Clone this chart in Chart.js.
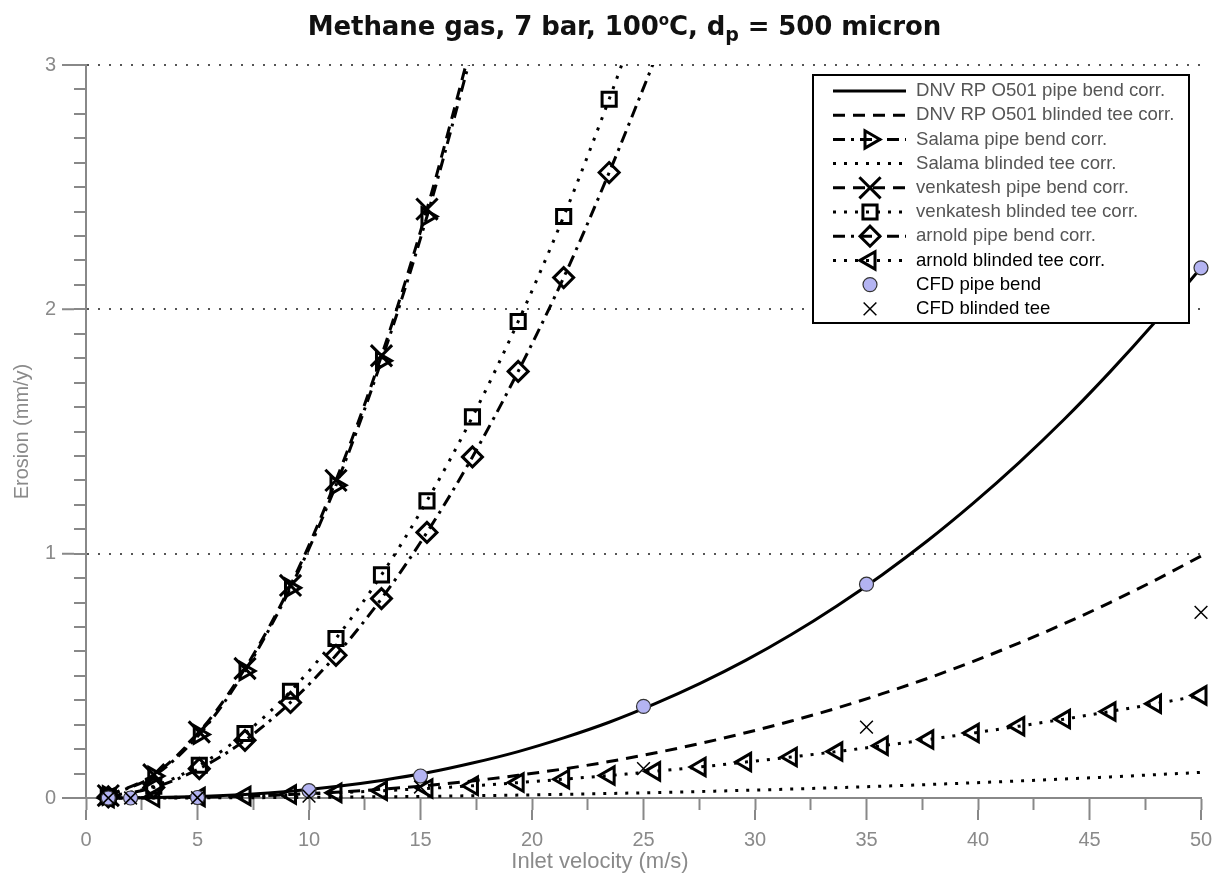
<!DOCTYPE html>
<html>
<head>
<meta charset="utf-8">
<script src="https://cdn.jsdelivr.net/npm/chart.js@4/dist/chart.umd.min.js"></script>
<style>
  body { margin: 0; background: #fff; }
  #wrap { position: relative; width: 1219px; height: 882px; }
  #title { position: absolute; left: 15px; top: 5px; width: 1219px; text-align: center;
           font: bold 26px "DejaVu Sans"; color: #111; line-height: 30px; letter-spacing: -0.1px; }
  #title sup { font-size: 15px; }
  #title sub { font-size: 19px; }
</style>
</head>
<body>
<div id="wrap">
  <div id="title">Methane gas, 7 bar, 100<sup>o</sup>C, d<sub>p</sub> = 500 micron</div>
  <canvas id="c" width="1219" height="882"></canvas>
</div>
<script>
// inlet velocities used by the correlations (m/s)
const velocity = [1, 3.04, 5.08, 7.13, 9.17, 11.21, 13.25, 15.29, 17.33, 19.38, 21.42, 23.46, 25.5,
                  27.54, 29.58, 31.63, 33.67, 35.71, 37.75, 39.79, 41.83, 43.88, 45.92, 47.96, 50];
// velocities of the CFD runs
const cfdVelocity = [1, 2, 5, 10, 15, 25, 35, 50];

// erosion (mm/y)
const dnvPipeBend = [0.0001, 0.0016, 0.006, 0.0145, 0.028, 0.047, 0.072, 0.103, 0.143, 0.19, 0.246, 0.31, 0.385,
                     0.469, 0.563, 0.669, 0.786, 0.914, 1.054, 1.207, 1.372, 1.551, 1.744, 1.95, 2.17];
const dnvBlindedTee = [0, 0.0009, 0.0033, 0.0076, 0.0143, 0.0236, 0.0358, 0.051, 0.07, 0.093, 0.119, 0.149, 0.184,
                       0.223, 0.267, 0.315, 0.368, 0.427, 0.49, 0.559, 0.634, 0.714, 0.8, 0.892, 0.99];
const salamaPipeBend = [0.01, 0.09, 0.26, 0.52, 0.86, 1.28, 1.79, 2.38, 3.06];
const salamaBlindedTee = [0, 0.0002, 0.0005, 0.0012, 0.0021, 0.0034, 0.005, 0.0069, 0.0092, 0.0119, 0.015, 0.0184, 0.0223,
                          0.0266, 0.0314, 0.0366, 0.0423, 0.0484, 0.055, 0.0621, 0.0697, 0.0778, 0.0863, 0.0954, 0.105];
const venkateshPipeBend = [0.01, 0.095, 0.27, 0.53, 0.87, 1.3, 1.81, 2.41, 3.1];
const venkateshBlindedTee = [0.005, 0.048, 0.134, 0.264, 0.437, 0.653, 0.913, 1.216, 1.56, 1.95, 2.38, 2.86, 3.38];
const arnoldPipeBend = [0.005, 0.043, 0.12, 0.236, 0.391, 0.584, 0.816, 1.087, 1.396, 1.746, 2.13, 2.56, 3.02];
const arnoldBlindedTee = [0.0002, 0.0016, 0.0043, 0.0085, 0.014, 0.021, 0.0295, 0.039, 0.05, 0.063, 0.077, 0.092, 0.109,
                          0.127, 0.147, 0.168, 0.19, 0.214, 0.239, 0.266, 0.294, 0.323, 0.354, 0.386, 0.42];
const cfdPipeBend = [0, 0, 0.002, 0.03, 0.09, 0.375, 0.875, 2.17];
const cfdBlindedTee = [0, 0, 0.001, 0.008, 0.045, 0.12, 0.29, 0.76];

const Y_MAX = 3;

function pts(xs, ys) {
    return ys.map((y, i) => ({ x: xs[i], y: y }));
}

// markers above the axis top are not shown (lines are clipped there)
function hideAbove(r) {
    return ctx => (ctx.raw && ctx.raw.y > Y_MAX ? 0 : r);
}

const DASH = [12, 8];
const DASHDOT = [12, 6, 3, 6];
const DOT = [3, 8];

function corr(label, ys, dash, style, radius, rotation) {
    return {
        label: label,
        data: pts(velocity, ys),
        borderColor: '#000',
        borderWidth: 3,
        borderDash: dash,
        backgroundColor: 'rgba(0,0,0,0)',
        pointStyle: style || 'circle',
        pointRadius: style ? hideAbove(radius) : 0,
        pointBorderWidth: 3,
        pointBorderColor: '#000',
        pointBackgroundColor: 'rgba(0,0,0,0)',
        pointRotation: rotation || 0,
        legendRadius: radius || 0,
        showLine: true,
        tension: 0,
        cubicInterpolationMode: 'monotone'
    };
}

const datasets = [
    corr('DNV RP O501 pipe bend corr.', dnvPipeBend, [], null),
    corr('DNV RP O501 blinded tee corr.', dnvBlindedTee, DASH, null),
    corr('Salama pipe bend corr.', salamaPipeBend, DASHDOT, 'triangle', 10, 90),
    corr('Salama blinded tee corr.', salamaBlindedTee, DOT, null),
    corr('venkatesh pipe bend corr.', venkateshPipeBend, DASH, 'crossRot', 15),
    corr('venkatesh blinded tee corr.', venkateshBlindedTee, DOT, 'rect', 10),
    corr('arnold pipe bend corr.', arnoldPipeBend, DASHDOT, 'rectRot', 10),
    corr('arnold blinded tee corr.', arnoldBlindedTee, DOT, 'triangle', 10, 270),
    {
        label: 'CFD pipe bend',
        data: pts(cfdVelocity, cfdPipeBend),
        showLine: false,
        pointStyle: 'circle',
        pointRadius: 7,
        pointBorderWidth: 1.2,
        pointBorderColor: '#333',
        pointBackgroundColor: '#b4b4f2',
        legendRadius: 7
    },
    {
        label: 'CFD blinded tee',
        data: pts(cfdVelocity, cfdBlindedTee),
        showLine: false,
        pointStyle: 'crossRot',
        pointRadius: 9,
        pointBorderWidth: 1.5,
        pointBorderColor: '#000',
        pointBackgroundColor: 'rgba(0,0,0,0)',
        legendRadius: 9
    }
];
// later series drawn on top, clip lines at the top of the axes
datasets.forEach((d, i) => {
    d.order = datasets.length - i;
    d.clip = { left: 20, top: 0, right: 20, bottom: 25 };
});

function isInt(v) { return Math.abs(v - Math.round(v)) < 1e-6; }

// longer major ticks
const majorTicks = {
    id: 'majorTicks',
    afterDraw(chart) {
        const ctx = chart.ctx;
        const xs = chart.scales.x, ys = chart.scales.y;
        ctx.save();
        ctx.strokeStyle = '#888';
        ctx.lineWidth = 2;
        ctx.beginPath();
        for (let v = 0; v <= Y_MAX; v++) {
            const p = ys.getPixelForValue(v);
            ctx.moveTo(ys.right - 24, p);
            ctx.lineTo(ys.right - 12, p);
        }
        for (let v = 0; v <= 50; v += 5) {
            const p = xs.getPixelForValue(v);
            ctx.moveTo(p, xs.top + 12);
            ctx.lineTo(p, xs.top + 22);
        }
        ctx.stroke();
        // x axis title
        ctx.fillStyle = '#8a8a8a';
        ctx.font = '22px "Liberation Sans"';
        ctx.textAlign = 'center';
        ctx.textBaseline = 'middle';
        ctx.fillText('Inlet velocity (m/s)', 600, 862);
        ctx.restore();
    }
};

// boxed legend with line + marker samples
const boxLegend = {
    id: 'boxLegend',
    afterDraw(chart) {
        const ctx = chart.ctx;
        const area = chart.chartArea;
        const w = 376, h = 248;
        const left = area.right - 12 - w, top = area.top + 10;
        ctx.save();
        ctx.fillStyle = '#fff';
        ctx.fillRect(left, top, w, h);
        ctx.strokeStyle = '#000';
        ctx.lineWidth = 2;
        ctx.strokeRect(left, top, w, h);
        ctx.font = '18.6px "Liberation Sans"';
        ctx.textBaseline = 'middle';
        ctx.textAlign = 'left';
        chart.data.datasets.forEach((d, i) => {
            const y = top + 16 + i * 24.2;
            const x1 = left + 20, x2 = left + 93, xm = left + 57;
            if (d.showLine) {
                ctx.strokeStyle = '#000';
                ctx.lineWidth = d.borderWidth;
                ctx.setLineDash(d.borderDash);
                ctx.beginPath();
                ctx.moveTo(x1, y);
                ctx.lineTo(x2, y);
                ctx.stroke();
            }
            ctx.setLineDash([]);
            if (d.legendRadius) {
                ctx.strokeStyle = d.pointBorderColor;
                ctx.fillStyle = d.pointBackgroundColor;
                ctx.lineWidth = d.pointBorderWidth;
                Chart.helpers.drawPoint(ctx, {
                    pointStyle: d.pointStyle,
                    rotation: d.pointRotation || 0,
                    radius: d.legendRadius,
                    borderWidth: d.pointBorderWidth
                }, xm, y);
            }
            ctx.fillStyle = i < 7 ? '#555' : '#000';
            ctx.fillText(d.label, left + 103, y);
        });
        ctx.restore();
    }
};

new Chart(document.getElementById('c'), {
    type: 'line',
    data: { datasets: datasets },
    options: {
        responsive: false,
        animation: false,
        layout: { padding: { top: 65, right: 16, left: 0, bottom: 0 } },
        plugins: { legend: { display: false }, tooltip: { enabled: false } },
        scales: {
            x: {
                type: 'linear',
                min: 0,
                max: 50,
                afterFit: s => { s.height = 84; s.paddingLeft = 0; s.paddingRight = 0; },
                ticks: {
                    stepSize: 2.5,
                    autoSkip: false,
                    maxRotation: 0,
                    padding: 18,
                    color: '#8a8a8a',
                    font: { family: 'Liberation Sans', size: 20 },
                    callback: v => (isInt(v / 5) ? v : '')
                },
                grid: { drawOnChartArea: false, tickLength: 12, tickColor: '#888', tickWidth: 2 },
                border: { color: '#888', width: 2 }
            },
            y: {
                min: 0,
                max: Y_MAX,
                afterFit: s => { s.width = 86; },
                ticks: {
                    stepSize: 0.1,
                    autoSkip: false,
                    padding: 18,
                    color: '#8a8a8a',
                    font: { family: 'Liberation Sans', size: 20 },
                    callback: v => (isInt(v) ? Math.round(v) : '')
                },
                grid: {
                    tickLength: 12,
                    tickColor: '#888',
                    tickWidth: 2,
                    lineWidth: 2,
                    color: ctx => (ctx.tick && isInt(ctx.tick.value) && ctx.tick.value > 0 ? '#555' : 'rgba(0,0,0,0)')
                },
                border: { color: '#888', width: 2, dash: [2, 9] },
                title: {
                    display: true,
                    text: 'Erosion (mm/y)',
                    color: '#8a8a8a',
                    font: { family: 'Liberation Sans', size: 20 },
                    padding: { top: 10, bottom: 0 }
                }
            }
        }
    },
    plugins: [majorTicks, boxLegend]
});
</script>
</body>
</html>
